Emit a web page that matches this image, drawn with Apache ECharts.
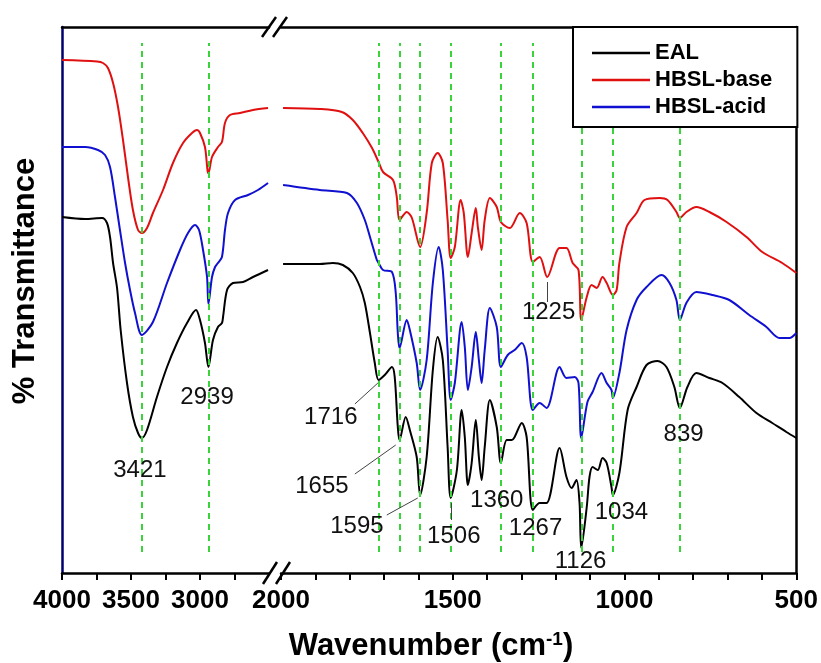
<!DOCTYPE html>
<html>
<head>
<meta charset="utf-8">
<script src="https://cdn.jsdelivr.net/npm/echarts@6/dist/echarts.min.js"></script>
<style>
  html, body { margin: 0; padding: 0; background: #fff; }
  #chart { width: 821px; height: 663px; }
</style>
</head>
<body>
<div id="chart"></div>
<script>
// FTIR spectra, wavenumber (cm-1) vs transmittance (arbitrary offset units)
const ealWn = [4000,3833,3710,3674,3652,3630,3601,3575,3529,3486,3449,3421,3384,3312,3239,3167,3094,3029,3000,2964,
  2939,2906,2870,2841,2833,2804,2761,2688,2616,2507,
  1994,1887,1849,1820,1791,1770,1756,1741,1727,1716,1698,1677,1669,1660,1655,1637,1625,1605,1595,1576,
  1558,1544,1529,1515,1506,1488,1474,1465,1456,1445,1433,1424,1416,1407,1392,1372,1360,1343,1328,1320,
  1299,1285,1267,1247,1227,1189,1169,1154,1140,1131,1126,1110,1102,1093,1078,1064,1052,1038,1034,1015,
  991,965,936,904,878,855,839,817,791,753,715,666,616,570,529,500]
const ealT = [71.2,70.8,71,70,67.2,62,57,48.6,38,31.2,28,27,28.6,35.2,41.2,46,50,52.6,50.6,46,
  41.2,46.6,49.2,50,51.2,56.6,58,58.2,59.2,60.6,
  61.8,61.8,62,61.6,60,57.2,54,48,42,38.6,39.6,41.2,39.2,29.2,26.6,31.2,28.6,23.2,15.6,23.2,
  40.6,47.2,42.6,25.2,15,20.6,32.6,27.2,17.6,22,30.6,23.2,18.6,25.2,34.6,29.2,22,26.6,26.6,27.2,
  30,27.2,12.6,14,14,25,19.2,17,18.6,14,5,13.2,19.2,21.2,20.6,23,22,17.2,15.6,20,
  32.6,37.2,41.6,42.4,41.2,37.2,33,37.2,40,39,38,35.2,32,30,28.2,27]

const baseWn = [4000,3746,3703,3667,3630,3594,3558,3522,3486,3449,3421,3384,3341,3268,3196,3123,3058,3022,3000,2964,
  2946,2939,2913,2870,2841,2819,2783,2710,2616,2507,
  1994,1887,1823,1791,1762,1735,1716,1703,1674,1663,1655,1634,1619,1595,1576,1561,1544,1529,1515,1506,
  1494,1477,1468,1456,1445,1433,1427,1416,1407,1392,1372,1360,1334,1305,1285,1267,1247,1225,1189,1169,
  1151,1134,1126,1110,1096,1081,1064,1052,1034,1023,1015,994,965,942,898,875,849,839,820,791,
  753,703,645,599,541,500]
const baseT = [102.6,102.3,102,101,98,93.2,86.6,79.2,72.6,68.6,68,69,72,76.6,82,86,88,88.6,88,85.2,
  80.6,80,83.2,85.2,86.2,90,91.6,92,92.6,93,
  93,92.8,92.2,90.6,88,85,82.2,80.2,78.6,75.2,70.6,72.2,71,65.2,72,82,84,82,70.6,63,
  65.2,74.6,72,63.2,68,73,69.2,64.6,70.6,75,73.2,70.2,69,72,70,62.2,63.2,59.2,65,65,
  62,60.6,50.6,55.2,57.6,57,59.2,58,55.6,56.6,62,69.2,72,74.6,75,74.6,72.2,71,72.2,73.2,
  72.2,70.2,67.2,64.2,62,60]

const acidWn = [4000,3833,3739,3688,3652,3616,3580,3543,3507,3471,3421,3341,3239,3145,3087,3036,3007,2978,2949,2939,
  2913,2891,2870,2841,2819,2797,2746,2652,2580,2507,
  1994,1887,1808,1779,1756,1741,1721,1716,1703,1677,1666,1660,1655,1634,1625,1605,1595,1576,1558,1541,
  1529,1515,1506,1494,1474,1465,1456,1445,1433,1424,1416,1407,1392,1372,1360,1340,1320,1299,1285,1267,
  1247,1227,1189,1169,1145,1134,1126,1108,1093,1067,1052,1038,1034,1015,994,965,936,892,869,849,
  839,820,791,744,695,637,587,549,520,500]
const acidT = [85.2,85.2,84.6,83.6,81.2,75.2,68.6,62,56.6,52,47.6,50.2,58,64.6,68,69.6,68.6,64.6,59.2,53.8,
  59.2,61.2,62,63.2,68.6,72,74.6,75.6,76.6,78,
  77.6,76.6,76,74,70.6,67.2,62.6,62,60.6,60.2,56,48,45,50.6,48.6,42,36.6,42.6,58,65.2,
  60.6,44.6,34.6,38,50.2,45.2,36.6,41.2,48.2,42.6,38,44.6,53,49.2,41.2,43.6,44.6,46,43.2,32.6,
  34,33,41.2,39,39.2,38,27,34.2,36.2,40,38,36.6,35,40,48.6,54.6,57.2,59.6,58,54.6,
  50.6,54,56.2,55.6,54.6,51.6,49.2,47,47,48]

// assigned bands (green dashed lines)
const peaksLeft = [3421, 2939]
const peaksRight = [1716, 1655, 1595, 1506, 1360, 1267, 1126, 1034, 839]

// band labels: [wavenumber, transmittance, text]
const labelsLeft = [[3435, 20.6, '3421'], [2949, 35.2, '2939']]
const labelsRight = [[1855, 31.2, '1716'], [1881, 17.4, '1655'], [1779, 9.4, '1595'], [1497, 7.4, '1506'],
  [1372, 14.6, '1360'], [1259, 9, '1267'], [1128, 2.4, '1126'], [1009, 12.2, '1034'],
  [828, 27.8, '839'], [1221, 52.2, '1225']]
// leader lines: [wn1, t1, wn2, t2]
const leaders = [[1785, 33.8, 1718, 38], [1785, 19.8, 1666, 25.6], [1692, 11.6, 1602, 15],
  [1503, 14, 1503, 10.6], [1224, 58.2, 1224, 54.2]]

const font = 'Liberation Sans'
const chart = echarts.init(document.getElementById('chart'))

const pick = (wn, t, lo, hi) => wn.map((w, i) => [w, t[i]]).filter(p => p[0] >= lo && p[0] <= hi)

const lineSeries = (name, color, g, wn, t) => ({
  type: 'line',
  name: name,
  xAxisIndex: g,
  yAxisIndex: g,
  data: g === 0 ? pick(wn, t, 2500, 4000) : pick(wn, t, 500, 2000),
  symbol: 'none',
  smooth: 0.3,
  lineStyle: { color: color, width: 2 },
  itemStyle: { color: color },
  z: 3
})

// invisible carrier series: band labels, dashed band lines and leader lines
const annotSeries = (g, labels, peaks, extra) => ({
  type: 'line',
  xAxisIndex: g,
  yAxisIndex: g,
  silent: true,
  lineStyle: { width: 0, opacity: 0 },
  data: [],
  markPoint: {
    silent: true,
    symbol: 'circle',
    symbolSize: 0,
    itemStyle: { color: '#000' },
    label: {
      show: true,
      position: 'inside',
      formatter: p => p.name,
      fontSize: 24,
      fontFamily: font,
      color: '#111'
    },
    data: labels.map(l => ({ coord: [l[0], l[1]], name: l[2] }))
  },
  markLine: {
    silent: true,
    symbol: 'none',
    label: { show: false },
    lineStyle: { color: '#3ad43a', type: [6, 5], width: 2 },
    data: peaks.map(p => [{ coord: [p, 4.2] }, { coord: [p, 106] }]).concat(
      extra.map(l => [{ coord: [l[0], l[1]], lineStyle: { color: '#444', type: 'solid', width: 1 } },
                      { coord: [l[2], l[3]] }]))
  },
  z: 4
})

const hidden = { show: false }
const xBase = (g, min, max, pos) => ({
  gridIndex: g, type: 'value', min: min, max: max, inverse: true, position: pos,
  axisLine: { onZero: false, lineStyle: { color: '#000', width: 2.5 } },
  splitLine: hidden
})
const tickLabel = vals => ({ customValues: vals, formatter: v => String(v), fontSize: 26, fontWeight: 'bold', color: '#000', margin: 15 })

const option = {
  animation: false,
  backgroundColor: '#fff',
  textStyle: { fontFamily: font },
  grid: [
    { left: 62, top: 27, width: 207, bottom: 90 },
    { left: 281, top: 27, right: 24, bottom: 90 }
  ],
  xAxis: [
    Object.assign(xBase(0, 2500, 4000, 'bottom'), {
      interval: 250,
      axisTick: { customValues: [4000, 3750, 3500, 3250, 3000, 2750], length: 7, lineStyle: { width: 2, color: '#000' } },
      axisLabel: tickLabel([4000, 3500, 3000])
    }),
    Object.assign(xBase(1, 500, 2000, 'bottom'), {
      interval: 100,
      axisTick: { length: 7, lineStyle: { width: 2, color: '#000' } },
      axisLabel: tickLabel([2000, 1500, 1000, 500])
    }),
    Object.assign(xBase(0, 2500, 4000, 'top'), { axisTick: hidden, axisLabel: hidden }),
    Object.assign(xBase(1, 500, 2000, 'top'), { axisTick: hidden, axisLabel: hidden })
  ],
  yAxis: [
    { gridIndex: 0, type: 'value', min: 0, max: 109.2, position: 'left',
      axisLine: { show: true, onZero: false, lineStyle: { color: '#00006e', width: 2.5 } },
      axisTick: hidden, axisLabel: hidden, splitLine: hidden },
    { gridIndex: 1, type: 'value', min: 0, max: 109.2, position: 'right',
      axisLine: { show: true, onZero: false, lineStyle: { color: '#000', width: 2.5 } },
      axisTick: hidden, axisLabel: hidden, splitLine: hidden }
  ],
  legend: {
    data: ['EAL', 'HBSL-base', 'HBSL-acid'],
    orient: 'vertical',
    left: 573,
    top: 27,
    icon: 'rect',
    itemWidth: 58,
    itemHeight: 2.5,
    itemGap: 5,
    padding: [15, 25, 9, 19],
    backgroundColor: '#fff',
    borderColor: '#000',
    borderWidth: 2,
    z: 20,
    textStyle: { fontSize: 22, fontWeight: 'bold', color: '#000', fontFamily: font, lineHeight: 22 }
  },
  series: [
    lineSeries('EAL', '#000000', 0, ealWn, ealT),
    lineSeries('HBSL-base', '#e01010', 0, baseWn, baseT),
    lineSeries('HBSL-acid', '#1010d0', 0, acidWn, acidT),
    lineSeries('EAL', '#000000', 1, ealWn, ealT),
    lineSeries('HBSL-base', '#e01010', 1, baseWn, baseT),
    lineSeries('HBSL-acid', '#1010d0', 1, acidWn, acidT),
    annotSeries(0, labelsLeft, peaksLeft, []),
    annotSeries(1, labelsRight, peaksRight, leaders)
  ],
  graphic: [
    { type: 'text', x: 25, y: 281, rotation: Math.PI / 2,
      style: { text: '% Transmittance', fontSize: 31, fontWeight: 'bold', fontFamily: font, fill: '#000',
               textAlign: 'center', textVerticalAlign: 'middle' } },
    { type: 'text', x: 431, y: 646,
      style: { text: '{a|Wavenumber (cm}{s|-1}{a|)}', fill: '#000', textAlign: 'center', textVerticalAlign: 'middle',
               rich: { a: { fontSize: 31, fontWeight: 'bold', fontFamily: font },
                       s: { fontSize: 19, fontWeight: 'bold', fontFamily: font, verticalAlign: 'top' } } } },
    // axis break marks
    { type: 'line', shape: { x1: 262, y1: 37, x2: 276, y2: 17 }, style: { stroke: '#000', lineWidth: 2.5 } },
    { type: 'line', shape: { x1: 273, y1: 37, x2: 287, y2: 17 }, style: { stroke: '#000', lineWidth: 2.5 } },
    { type: 'line', shape: { x1: 263, y1: 584, x2: 277, y2: 562 }, style: { stroke: '#000', lineWidth: 2.5 } },
    { type: 'line', shape: { x1: 276, y1: 584, x2: 290, y2: 562 }, style: { stroke: '#000', lineWidth: 2.5 } }
  ]
}

chart.setOption(option)
</script>
</body>
</html>
